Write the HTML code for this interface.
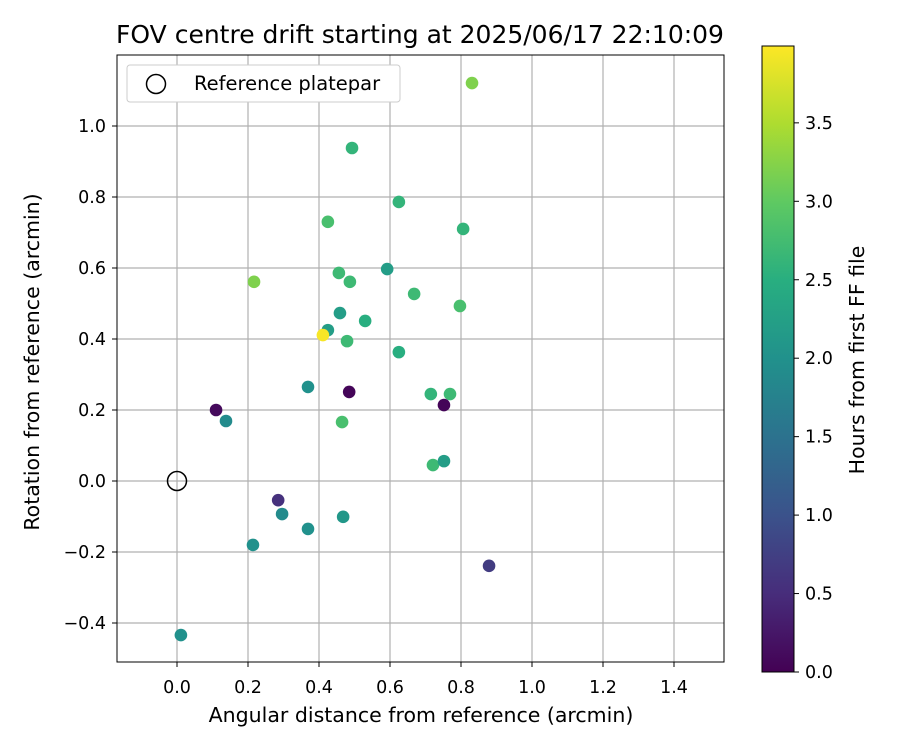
<!DOCTYPE html>
<html><head><meta charset="utf-8"><style>
body{margin:0;background:#fff;font-family:"Liberation Sans","DejaVu Sans",sans-serif}
text{font-family:"DejaVu Sans","Liberation Sans",sans-serif;fill:#000}
</style></head><body>
<svg id="chart" width="900" height="750" xmlns="http://www.w3.org/2000/svg">
<defs><linearGradient id="vir" x1="0" y1="1" x2="0" y2="0">
<stop offset="0" stop-color="#440154"/><stop offset="0.125" stop-color="#472d7b"/><stop offset="0.25" stop-color="#3b528b"/><stop offset="0.375" stop-color="#2c728e"/><stop offset="0.5" stop-color="#21918c"/><stop offset="0.625" stop-color="#28ae80"/><stop offset="0.75" stop-color="#5ec962"/><stop offset="0.875" stop-color="#addc30"/><stop offset="1" stop-color="#fde725"/>
</linearGradient></defs>
<rect width="900" height="750" fill="#fff"/>
<text x="420" y="43" font-size="25" text-anchor="middle">FOV centre drift starting at 2025/06/17 22:10:09</text>
<g id="grid"></g>
<g id="pts"></g>
<rect x="117" y="55" width="607" height="607" fill="none" stroke="#000" stroke-width="1"/>
<g id="axes"></g>
<text x="421" y="722" font-size="20.5" text-anchor="middle">Angular distance from reference (arcmin)</text>
<text transform="translate(39,362) rotate(-90)" font-size="20.5" text-anchor="middle">Rotation from reference (arcmin)</text>
<g>
<rect x="127" y="65" width="273" height="37" rx="3" fill="#fff" stroke="#ccc"/>
<circle cx="156" cy="84" r="9.5" fill="none" stroke="#000" stroke-width="1.5"/>
<text x="194" y="90" font-size="19.5">Reference platepar</text>
</g>
<rect x="762" y="46" width="32" height="626" fill="url(#vir)" stroke="#000"/>
<g id="cb"></g>
<text transform="translate(864,360) rotate(-90)" font-size="20.5" text-anchor="middle">Hours from first FF file</text>
</svg>
<script>
const xs=[0.831,0.493,0.625,0.425,0.806,0.217,0.456,0.487,0.592,0.668,0.797,0.459,0.53,0.425,0.411,0.479,0.625,0.369,0.485,0.715,0.769,0.752,0.11,0.138,0.465,0.721,0.752,0.285,0.296,0.369,0.468,0.214,0.879,0.011];
const ys=[1.121,0.938,0.786,0.73,0.71,0.561,0.586,0.561,0.597,0.527,0.493,0.473,0.451,0.425,0.411,0.394,0.363,0.265,0.251,0.245,0.245,0.214,0.2,0.169,0.166,0.045,0.056,-0.054,-0.093,-0.135,-0.101,-0.18,-0.239,-0.434];
const hrs=[3.2,2.6,2.6,2.8,2.6,3.2,2.7,2.7,2.2,2.7,2.8,2.2,2.5,2.2,3.95,2.7,2.5,2.0,0.05,2.6,2.7,0.05,0.1,1.9,2.8,2.7,2.2,0.55,1.9,2.0,2.1,2.0,0.7,2.0];
const xTicks=[0,0.2,0.4,0.6,0.8,1.0,1.2,1.4];
const yTicks=[-0.4,-0.2,0,0.2,0.4,0.6,0.8,1.0];
const cTicks=[0,0.5,1,1.5,2,2.5,3,3.5];
const X=v=>177+v*355, Y=v=>481-v*355, C=v=>672-v*156.9, HMAX=3.99;
const ns="http://www.w3.org/2000/svg";
function mk(p,t,a){const e=document.createElementNS(ns,t);for(const k in a)e.setAttribute(k,a[k]);document.getElementById(p).appendChild(e);return e;}
const vs=[[68,1,84],[71,45,123],[59,82,139],[44,114,142],[33,145,140],[40,174,128],[94,201,98],[173,220,48],[253,231,37]];
function vir(t){t=Math.max(0,Math.min(1,t))*8;const i=Math.min(7,Math.floor(t)),f=t-i;const a=vs[i],b=vs[i+1];return`rgb(${a.map((c,k)=>Math.round(c+(b[k]-c)*f)).join(',')})`;}
xTicks.forEach(v=>{const l=mk('grid','line',{x1:X(v),x2:X(v),y1:55,y2:662,stroke:'#b0b0b0','stroke-width':1.2});
const t=mk('axes','line',{x1:X(v),x2:X(v),y1:662,y2:667,stroke:'#000'});
const tx=mk('axes','text',{x:X(v),y:693,'font-size':17.5,'text-anchor':'middle'});tx.textContent=v.toFixed(1);});
yTicks.forEach(v=>{const l=mk('grid','line',{x1:117,x2:724,y1:Y(v),y2:Y(v),stroke:'#b0b0b0','stroke-width':1.2});
const t=mk('axes','line',{x1:112,x2:117,y1:Y(v),y2:Y(v),stroke:'#000'});
const tx=mk('axes','text',{x:106,y:Y(v)+6,'font-size':17.5,'text-anchor':'end'});tx.textContent=(v<0?'\u2212':'')+Math.abs(v).toFixed(1);});
cTicks.forEach(v=>{const t=mk('cb','line',{x1:794,x2:799,y1:C(v),y2:C(v),stroke:'#000'});
const tx=mk('cb','text',{x:805,y:C(v)+6,'font-size':17.5});tx.textContent=v.toFixed(1);});
xs.forEach((x,i)=>{const c=mk('pts','circle',{cx:X(x),cy:Y(ys[i]),r:6.3,fill:vir(hrs[i]/HMAX)});});
const r=mk('pts','circle',{cx:X(0),cy:Y(0),r:9.5,fill:'none',stroke:'#000','stroke-width':1.5});


</script>
</body></html>
